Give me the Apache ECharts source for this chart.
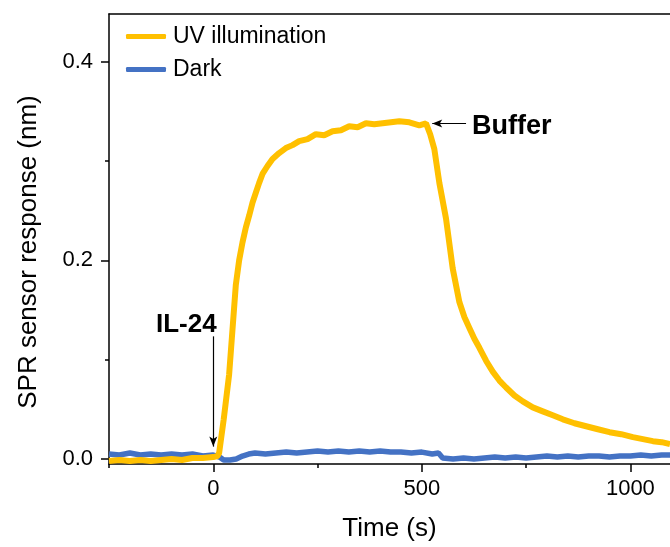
<!DOCTYPE html>
<html>
<head>
<meta charset="utf-8">
<script src="https://cdn.jsdelivr.net/npm/echarts@6/dist/echarts.min.js"></script>
<style>
    html, body { margin: 0; padding: 0; background: #fff; }
    #chart { width: 670px; height: 547px; }
</style>
</head>
<body>
<div id="chart"></div>
<script>
// 数据
var uvTime = [-250, -225, -200, -175, -150, -125, -100, -75, -50, -25, 0, 10, 14, 25, 38, 46, 54, 62, 70, 78,
    86, 94, 102, 110, 118, 130, 142, 158, 174, 190, 206, 226, 246, 266, 286, 306, 326, 346, 366, 386,
    406, 426, 446, 470, 494, 510, 520, 530, 542, 558, 574, 590, 602, 614, 626, 638, 654, 670, 686, 702,
    722, 742, 766, 790, 814, 838, 866, 894, 922, 950, 978, 1006, 1030, 1054, 1075, 1095];
var uvValue = [-0.002, -0.001, -0.002, -0.001, -0.002, -0.001, 0.000, -0.001, 0.001, 0.001, 0.002, 0.003, 0.006, 0.040, 0.085, 0.130, 0.175, 0.200, 0.218, 0.233,
    0.245, 0.258, 0.268, 0.278, 0.287, 0.295, 0.302, 0.308, 0.313, 0.316, 0.320, 0.322, 0.327, 0.326, 0.330, 0.331, 0.335, 0.334, 0.338, 0.337,
    0.338, 0.339, 0.340, 0.339, 0.336, 0.338, 0.327, 0.312, 0.278, 0.242, 0.192, 0.158, 0.143, 0.132, 0.121, 0.112, 0.099, 0.088, 0.079, 0.072,
    0.064, 0.058, 0.052, 0.048, 0.044, 0.040, 0.036, 0.033, 0.030, 0.027, 0.025, 0.022, 0.020, 0.018, 0.017, 0.015];

var darkTime = [-250, -225, -200, -175, -150, -125, -100, -75, -50, -25, 0, 15, 25, 40, 55, 70, 85, 100, 125, 150,
    175, 200, 225, 250, 275, 300, 325, 350, 375, 400, 425, 450, 475, 500, 525, 540, 550, 575, 600, 625,
    650, 675, 700, 725, 750, 775, 800, 825, 850, 875, 900, 925, 950, 975, 1000, 1025, 1050, 1075, 1095];
var darkValue = [0.005, 0.004, 0.006, 0.004, 0.005, 0.004, 0.005, 0.004, 0.005, 0.003, 0.004, 0.002, -0.001, -0.001, 0.000, 0.003, 0.005, 0.006, 0.005, 0.006,
    0.007, 0.006, 0.007, 0.008, 0.007, 0.008, 0.007, 0.008, 0.007, 0.008, 0.007, 0.007, 0.006, 0.007, 0.005, 0.006, 0.001, 0.000, 0.001, 0.000,
    0.001, 0.002, 0.001, 0.002, 0.001, 0.002, 0.003, 0.002, 0.003, 0.002, 0.003, 0.003, 0.002, 0.003, 0.003, 0.004, 0.003, 0.004, 0.004];

var seriesNames = ['UV illumination', 'Dark'];
var xMajorTicks = [0, 500, 1000];
var xMinorTicks = [-250, 250, 750];
var yMajorTicks = [0, 0.2, 0.4];
var yMinorTicks = [0.1, 0.3];

function zip(a, b) {
    var out = [];
    for (var i = 0; i < a.length; i++) {
        out.push([a[i], b[i]]);
    }
    return out;
}

(function () {
    let myChart = echarts.init(document.getElementById('chart'));
    let font = '"Liberation Sans", Arial, sans-serif';
    let axisLine = { onZero: false, lineStyle: { color: '#000', width: 1.5 } };

    let option = {
        animation: false,
        textStyle: { fontFamily: font },
        grid: {
            left: 109,
            top: 14,
            right: 0,
            bottom: 80
        },
        legend: {
            orient: 'vertical',
            left: 126,
            top: 25,
            padding: 0,
            itemWidth: 40,
            itemHeight: 5,
            itemGap: 10,
            icon: 'roundRect',
            textStyle: { fontFamily: font, fontSize: 23, lineHeight: 23, color: '#000', padding: [0, 0, 0, 2] },
            data: seriesNames
        },
        xAxis: [
            {
                type: 'value',
                min: -250,
                max: 1095,
                interval: 250,
                position: 'bottom',
                axisLine: axisLine,
                axisTick: { customValues: xMajorTicks, length: 8, lineStyle: { color: '#000', width: 1.5 } },
                axisLabel: {
                    customValues: xMajorTicks,
                    margin: 14,
                    fontSize: 22,
                    color: '#000',
                    fontFamily: font,
                    formatter: function (v) { return String(v); }
                },
                splitLine: { show: false },
                name: 'Time (s)',
                nameLocation: 'middle',
                nameGap: 52,
                nameTextStyle: { fontSize: 26, color: '#000', fontFamily: font }
            },
            {
                // 次刻度
                type: 'value',
                min: -250,
                max: 1095,
                interval: 250,
                position: 'bottom',
                axisLine: { show: false, onZero: false },
                axisTick: { customValues: xMinorTicks, length: 4, lineStyle: { color: '#000', width: 1.5 } },
                axisLabel: { show: false },
                splitLine: { show: false }
            },
            {
                // 上边框
                type: 'value',
                min: -250,
                max: 1095,
                position: 'top',
                axisLine: axisLine,
                axisTick: { show: false },
                axisLabel: { show: false },
                splitLine: { show: false }
            }
        ],
        yAxis: [
            {
                type: 'value',
                min: -0.005,
                max: 0.448,
                position: 'left',
                axisLine: axisLine,
                axisTick: { customValues: yMajorTicks, length: 8, lineStyle: { color: '#000', width: 1.5 } },
                axisLabel: {
                    customValues: yMajorTicks,
                    margin: 16,
                    fontSize: 22,
                    color: '#000',
                    fontFamily: font,
                    formatter: function (v) { return v.toFixed(1); }
                },
                splitLine: { show: false },
                name: 'SPR sensor response (nm)',
                nameLocation: 'middle',
                nameGap: 67,
                nameTextStyle: { fontSize: 26, color: '#000', fontFamily: font, padding: [0, 26, 0, 0] }
            },
            {
                // 次刻度
                type: 'value',
                min: -0.005,
                max: 0.448,
                position: 'left',
                axisLine: { show: false, onZero: false },
                axisTick: { customValues: yMinorTicks, length: 4, lineStyle: { color: '#000', width: 1.5 } },
                axisLabel: { show: false },
                splitLine: { show: false }
            }
        ],
        series: [
            {
                name: 'Dark',
                type: 'line',
                showSymbol: false,
                color: '#4472C4',
                lineStyle: { width: 5.5, color: '#4472C4' },
                z: 2,
                data: zip(darkTime, darkValue)
            },
            {
                name: 'UV illumination',
                type: 'line',
                showSymbol: false,
                color: '#FFC000',
                lineStyle: { width: 6, color: '#FFC000' },
                z: 3,
                data: zip(uvTime, uvValue),
                markLine: {
                    silent: true,
                    symbol: ['none', 'arrow'],
                    symbolSize: [6, 10],
                    lineStyle: { color: '#000', width: 1.2, type: 'solid' },
                    label: {
                        show: true,
                        position: 'start',
                        fontWeight: 'bold',
                        color: '#000',
                        fontFamily: font,
                        formatter: '{b}'
                    },
                    data: [
                        [
                            { name: 'IL-24', coord: [0, 0.1235], label: { fontSize: 26, offset: [-27, 4], distance: 3 } },
                            { coord: [0, 0.0125] }
                        ],
                        [
                            { name: 'Buffer', coord: [606, 0.3377], label: { fontSize: 27, offset: [0, 3], distance: 6 } },
                            { coord: [525, 0.3377] }
                        ]
                    ]
                }
            }
        ]
    };
    myChart.setOption(option);
    window.addEventListener('resize', function () {
        myChart.resize();
    })
})();
</script>
</body>
</html>
